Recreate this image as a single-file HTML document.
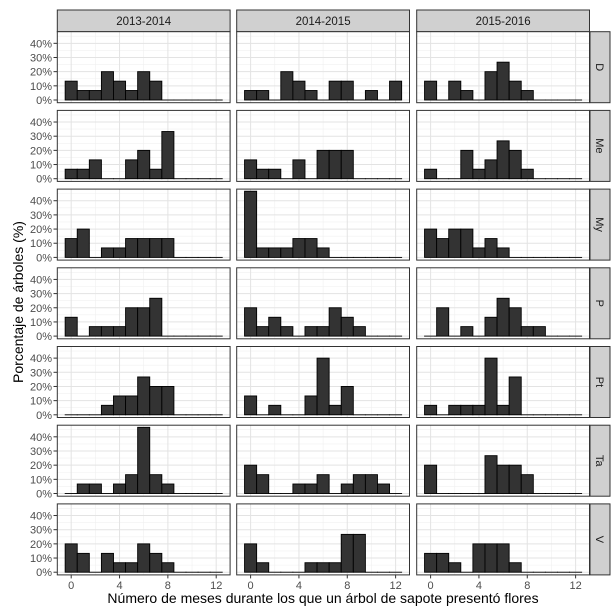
<!DOCTYPE html>
<html><head><meta charset="utf-8">
<style>
html,body{margin:0;padding:0;background:#fff;}
svg{display:block;font-family:"Liberation Sans",Arial,sans-serif;}
</style></head>
<body>
<svg id="chart" width="616" height="608" viewBox="0 0 616 608" xmlns="http://www.w3.org/2000/svg"></svg>
<script>
const years = ["2013-2014","2014-2015","2015-2016"];
const groups = ["D","Me","My","P","Pt","Ta","V"];
const binCenters = [0,1,2,3,4,5,6,7,8,9,10,11,12];
const xTicks = [0,4,8,12];
const yTicks = [0,10,20,30,40];
const yTickLabels = ["0%","10%","20%","30%","40%"];
const vals2013 = [
 [13.3,6.7,6.7,20,13.3,6.7,20,13.3,0,0,0,0,0],
 [6.7,6.7,13.3,0,0,13.3,20,6.7,33.3,0,0,0,0],
 [13.3,20,0,6.7,6.7,13.3,13.3,13.3,13.3,0,0,0,0],
 [13.3,0,6.7,6.7,6.7,20,20,26.7,0,0,0,0,0],
 [0,0,0,6.7,13.3,13.3,26.7,20,20,0,0,0,0],
 [0,6.7,6.7,0,6.7,13.3,46.7,13.3,6.7,0,0,0,0],
 [20,13.3,0,13.3,6.7,6.7,20,13.3,6.7,0,0,0,0]
];
const vals2014 = [
 [6.7,6.7,0,20,13.3,6.7,0,13.3,13.3,0,6.7,0,13.3],
 [13.3,6.7,6.7,0,13.3,0,20,20,20,0,0,0,0],
 [46.7,6.7,6.7,6.7,13.3,13.3,6.7,0,0,0,0,0,0],
 [20,6.7,13.3,6.7,0,6.7,6.7,20,13.3,6.7,0,0,0],
 [13.3,0,6.7,0,0,13.3,40,6.7,20,0,0,0,0],
 [20,13.3,0,0,6.7,6.7,13.3,0,6.7,13.3,13.3,6.7,0],
 [20,6.7,0,0,0,6.7,6.7,6.7,26.7,26.7,0,0,0]
];
const vals2015 = [
 [13.3,0,13.3,6.7,0,20,26.7,13.3,6.7,0,0,0,0],
 [6.7,0,0,20,6.7,13.3,26.7,20,6.7,0,0,0,0],
 [20,13.3,20,20,6.7,13.3,6.7,0,0,0,0,0,0],
 [0,20,0,6.7,0,13.3,26.7,20,6.7,6.7,0,0,0],
 [6.7,0,6.7,6.7,6.7,40,6.7,26.7,0,0,0,0,0],
 [20,0,0,0,0,26.7,20,20,13.3,0,0,0,0],
 [13.3,13.3,6.7,0,20,20,20,6.7,0,0,0,0,0]
];
const allVals = [vals2013, vals2014, vals2015];

const NS = "http://www.w3.org/2000/svg";
const svg = document.getElementById("chart");
function mk(tag, attrs, parent){
  const e = document.createElementNS(NS, tag);
  for (const k in attrs) e.setAttribute(k, attrs[k]);
  (parent||svg).appendChild(e);
  return e;
}
const colLeft = [57.3, 236.7, 416.7];
const panelW = 172.8;
const rowTop0 = 31.7, rowH = 71, rowPitch = 78.7;
const xMin = -1.15, xMax = 13.15;
const yMin = -1.9, yMax = 48.2;
function xPos(c, v){ return colLeft[c] + (v - xMin) / (xMax - xMin) * panelW; }
function yPos(r, v){ const t = rowTop0 + r*rowPitch; return t + rowH - (v - yMin)/(yMax - yMin)*rowH; }

// strips on top
years.forEach((y,c)=>{
  const g = mk("g",{});
  
  
  mk("rect",{x:colLeft[c],y:10,width:panelW,height:21.7,fill:"#d0d0d0",stroke:"#333","stroke-width":1},g);
  const t = mk("text",{x:colLeft[c]+panelW/2,y:25,"text-anchor":"middle","font-size":11.5,fill:"#1a1a1a"},g);
  t.textContent = y;
});

groups.forEach((gname,r)=>{
  const top = rowTop0 + r*rowPitch;
  // right strip
  const sg = mk("g",{});
  
  
  mk("rect",{x:590,y:top,width:20,height:rowH,fill:"#d0d0d0",stroke:"#333","stroke-width":1},sg);
  const st = mk("text",{x:0,y:0,"text-anchor":"middle","font-size":11,fill:"#1a1a1a",transform:`translate(596,${top+rowH/2}) rotate(90)`},sg);
  st.textContent = gname;

  // y tick labels
  yTicks.forEach((v,i)=>{
    const yy = yPos(r,v);
    const tl = mk("text",{x:52,y:yy+4,"text-anchor":"end","font-size":11,fill:"#4d4d4d"});
    
    
    tl.textContent = yTickLabels[i];
    mk("line",{x1:53.5,x2:57.3,y1:yy,y2:yy,stroke:"#333","stroke-width":1});
  });

  years.forEach((yr,c)=>{
    const pg = mk("g",{});
    
    
    mk("rect",{x:colLeft[c],y:top,width:panelW,height:rowH,fill:"#fff"},pg);
    // minor grid
    [2,6,10].forEach(v=>mk("line",{x1:xPos(c,v),x2:xPos(c,v),y1:top,y2:top+rowH,stroke:"#f0f0f0","stroke-width":0.6},pg));
    [5,15,25,35,45].forEach(v=>mk("line",{x1:colLeft[c],x2:colLeft[c]+panelW,y1:yPos(r,v),y2:yPos(r,v),stroke:"#f0f0f0","stroke-width":0.6},pg));
    xTicks.forEach(v=>mk("line",{x1:xPos(c,v),x2:xPos(c,v),y1:top,y2:top+rowH,stroke:"#e3e3e3","stroke-width":1},pg));
    yTicks.forEach(v=>mk("line",{x1:colLeft[c],x2:colLeft[c]+panelW,y1:yPos(r,v),y2:yPos(r,v),stroke:"#e3e3e3","stroke-width":1},pg));
    // bars
    const vals = allVals[c][r];
    binCenters.forEach((b,i)=>{
      const v = vals[i];
      const x0 = xPos(c,b-0.5), x1 = xPos(c,b+0.5);
      const y0 = yPos(r,0), y1 = yPos(r,v);
      const bar = mk("rect",{x:x0,y:Math.min(y0,y1),width:x1-x0,height:Math.max(0.01,Math.abs(y0-y1)),fill:"#333",stroke:"#000","stroke-width":0.9},pg);
      
      
    });
    mk("rect",{x:colLeft[c],y:top,width:panelW,height:rowH,fill:"none",stroke:"#333","stroke-width":1},pg);

    if (r === groups.length-1){
      xTicks.forEach(v=>{
        const xx = xPos(c,v);
        mk("line",{x1:xx,x2:xx,y1:top+rowH,y2:top+rowH+3.5,stroke:"#333","stroke-width":1});
        const tl = mk("text",{x:xx,y:top+rowH+14,"text-anchor":"middle","font-size":11,fill:"#4d4d4d"});
        
        
        tl.textContent = v;
      });
    }
  });
});

const xt = mk("text",{x:323,y:603,"text-anchor":"middle","font-size":14,fill:"#000"});


xt.textContent = "Número de meses durante los que un árbol de sapote presentó flores";
const yt = mk("text",{x:0,y:0,"text-anchor":"middle","font-size":14,fill:"#000",transform:"translate(23,302) rotate(-90)"});


yt.textContent = "Porcentaje  de  árboles (%)";
</script>
</body></html>
